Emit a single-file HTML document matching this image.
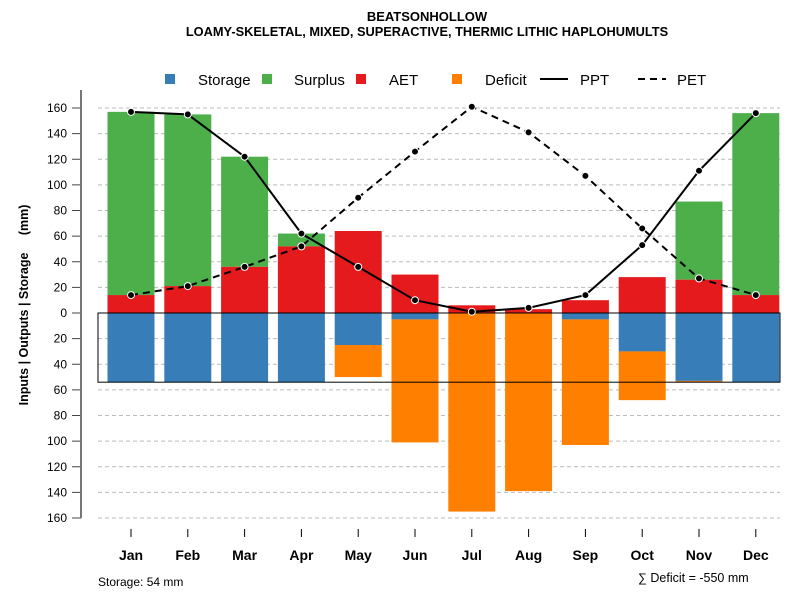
<!DOCTYPE html>
<html><head><meta charset="utf-8"><style>body{margin:0;background:#fff}svg{font-family:"Liberation Sans",sans-serif}</style></head>
<body>
<svg id="c" width="800" height="600"></svg>
<script>
const months=["Jan","Feb","Mar","Apr","May","Jun","Jul","Aug","Sep","Oct","Nov","Dec"];
const ppt=[157,155,122,62,36,10,1,4,14,53,111,156];
const pet=[14,21,36,52,90,126,161,141,107,66,27,14];
const aet=[14,21,36,52,64,30,6,3,10,28,26,14];
const surplus=[143,134,86,10,0,0,0,0,0,0,61,142];
const storage=[54,54,54,54,25,5,0,0,5,30,53,54];
const deficit=[0,0,0,0,25,96,155,139,98,38,1,0];
const yTicks=[160,140,120,100,80,60,40,20,0,20,40,60,80,100,120,140,160];
const storageMax=54, deficitSum=-550;
const svg=document.getElementById('c');const NS='http://www.w3.org/2000/svg';
function el(t,a,txt){const e=document.createElementNS(NS,t);for(const k in a)e.setAttribute(k,a[k]);if(txt!=null)e.textContent=txt;svg.appendChild(e);return e;}
const y=v=>313-v*1.28125; const x=i=>131+i*56.8; const bw=47;
function t(x0,y0,s,a){const e=el('text',Object.assign({x:x0,y:y0},a),s);return e;}
let e=t(427,21,"BEATSONHOLLOW",{'text-anchor':'middle','font-size':13,'font-weight':'bold'});
e=t(427,36,"LOAMY-SKELETAL, MIXED, SUPERACTIVE, THERMIC LITHIC HAPLOHUMULTS",{'text-anchor':'middle','font-size':12.8,'font-weight':'bold'});
const leg=[["Storage","#377eb8",165,198],["Surplus","#4daf4a",262,294],["AET","#e41a1c",356,389],["Deficit","#ff7f00",452,485]];
leg.forEach(l=>{const r=el('rect',{x:l[2],y:74,width:10,height:10,fill:l[1]});
const tx=t(l[3],85,l[0],{'font-size':15});});
el('line',{x1:540,x2:568,y1:79,y2:79,stroke:'#000','stroke-width':2});
e=t(580,85,"PPT",{'font-size':15});
el('line',{x1:638,x2:666,y1:79,y2:79,stroke:'#000','stroke-width':2,'stroke-dasharray':'7,5'});
e=t(677,85,"PET",{'font-size':15});
yTicks.forEach((v,i)=>{const yy=108+i*25.625;
el('line',{x1:98,x2:780,y1:yy,y2:yy,stroke:'#bbb','stroke-dasharray':'4,3'});
el('line',{x1:72,x2:81,y1:yy,y2:yy,stroke:'#444'});
const tx=t(67,yy+4,v,{'text-anchor':'end','font-size':12});});
e=el('line',{x1:81,x2:81,y1:90,y2:518,stroke:'#777','stroke-width':2});
e=t(0,0,"Inputs | Outputs | Storage\u00a0\u00a0\u00a0\u00a0\u00a0(mm)",{'font-size':12.5,'font-weight':'bold','text-anchor':'middle',transform:'translate(28,305) rotate(-90)'});
months.forEach((m,i)=>{const cx=x(i),x0=cx-bw/2;
let r=el('rect',{x:x0,y:y(aet[i]+surplus[i]),width:bw,height:surplus[i]*1.28125,fill:'#4daf4a'});
r=el('rect',{x:x0,y:y(aet[i]),width:bw,height:aet[i]*1.28125,fill:'#e41a1c'});
r=el('rect',{x:x0,y:313,width:bw,height:storage[i]*1.28125,fill:'#377eb8'});
r=el('rect',{x:x0,y:y(-storage[i]),width:bw,height:deficit[i]*1.28125,fill:'#ff7f00'});
el('line',{x1:cx,x2:cx,y1:529,y2:537,stroke:'#000'});
const tx=t(cx,560,m,{'text-anchor':'middle','font-size':14,'font-weight':'bold'});});
e=el('rect',{x:98,y:313,width:682,height:storageMax*1.28125,fill:'none',stroke:'#000','stroke-width':1});
function line(arr,name,dash){const p=el('polyline',{points:arr.map((v,i)=>x(i)+','+y(v)).join(' '),fill:'none',stroke:'#000','stroke-width':2,'stroke-dasharray':dash});
arr.forEach((v,i)=>{const c=el('circle',{cx:x(i),cy:y(v),r:3.5,fill:'#000',stroke:'#fff','stroke-width':1});});}
line(pet,'pet','7,5');line(ppt,'ppt','none');
e=t(98,586,"Storage: "+storageMax+" mm",{'font-size':12});
e=t(638,582,"∑ Deficit = "+deficitSum+" mm",{'font-size':12.5});
</script>
</body></html>
